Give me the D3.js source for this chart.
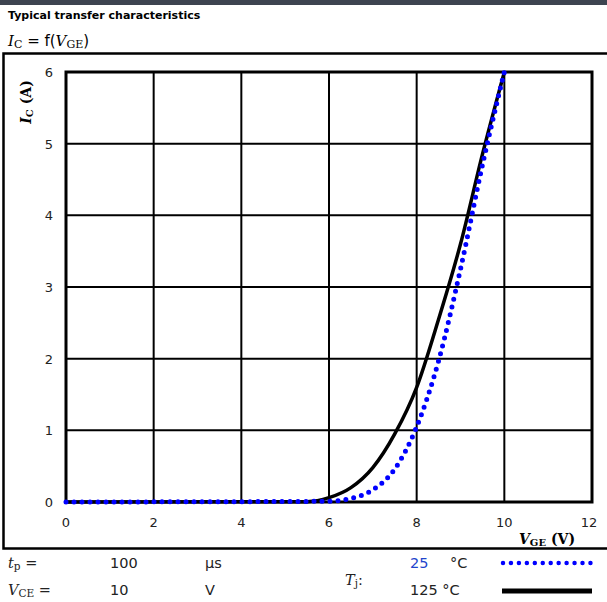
<!DOCTYPE html>
<html><head><meta charset="utf-8">
<script src="https://cdn.jsdelivr.net/npm/d3@7"></script>
<style>body{margin:0;background:#fff}svg{display:block}</style>
</head><body><svg id="c" width="607" height="602"></svg>
<script>
const xTicks = [0, 2, 4, 6, 8, 10, 12];
const yTicks = [0, 1, 2, 3, 4, 5, 6];
const vge = [0, 5.5, 6, 6.5, 7, 7.5, 8, 8.5, 9, 9.5, 10];
const ic125 = [0, 0.005, 0.06, 0.2, 0.48, 0.95, 1.6, 2.55, 3.6, 4.85, 6.0];
const vge25 = [0, 6, 6.5, 7, 7.5, 8, 8.5, 9, 9.5, 10];
const ic25 = [0, 0.01, 0.05, 0.17, 0.46, 1.05, 1.97, 3.25, 4.7, 6.0];

const svg = d3.select("#c");
const x = d3.scaleLinear().domain([0, 12]).range([66, 592]);
const y = d3.scaleLinear().domain([0, 6]).range([502, 72]);

svg.append("rect").attr("x",0).attr("y",0).attr("width",607).attr("height",5).attr("fill","#3d4450");
svg.append("text").attr("x",8).attr("y",19).attr("font-family","DejaVu Sans").attr("font-weight","bold").attr("font-size",11).text("Typical transfer characteristics");

const f = svg.append("text").attr("x",8).attr("y",46).attr("font-family","DejaVu Serif").attr("font-size",15);
f.append("tspan").attr("font-style","italic").text("I");
f.append("tspan").attr("font-size",11).attr("dy",2).text("C");
f.append("tspan").attr("dy",-2).attr("font-family","DejaVu Sans").text(" = f(");
f.append("tspan").attr("font-style","italic").text("V");
f.append("tspan").attr("font-size",11).attr("dy",2).text("GE");
f.append("tspan").attr("dy",-2).attr("font-family","DejaVu Sans").text(")");

// outer box
svg.append("path").attr("d","M612,53.5H3.5V548.5H612").attr("fill","none").attr("stroke","#000").attr("stroke-width",2.5);

// grid
const g = svg.append("g");
g.selectAll(".vx").data(xTicks).join("line").attr("x1",d=>x(d)).attr("x2",d=>x(d)).attr("y1",y(0)).attr("y2",y(6)).attr("stroke","#000").attr("stroke-width",2);
g.selectAll(".hy").data(yTicks).join("line").attr("x1",x(0)).attr("x2",x(12)).attr("y1",d=>y(d)).attr("y2",d=>y(d)).attr("stroke","#000").attr("stroke-width",2);
g.append("rect").attr("x",x(0)).attr("y",y(6)).attr("width",x(12)-x(0)).attr("height",y(0)-y(6)).attr("fill","none").attr("stroke","#000").attr("stroke-width",3);

// tick labels
svg.selectAll(".xl").data(xTicks).join("text").attr("x",d=>x(d)-(d===12?3:0)).attr("y",527).attr("text-anchor","middle").attr("font-family","DejaVu Sans").attr("font-size",13).attr("fill","#222").text(d=>d);
svg.selectAll(".yl").data(yTicks).join("text").attr("x",53).attr("y",d=>y(d)+5).attr("text-anchor","end").attr("font-family","DejaVu Sans").attr("font-size",13).attr("fill","#222").text(d=>d);

// axis titles
const yt = svg.append("text").attr("transform","translate(31,102) rotate(-90)").attr("text-anchor","middle").attr("font-family","DejaVu Serif").attr("font-weight","bold").attr("font-size",14);
yt.append("tspan").attr("font-style","italic").text("I");
yt.append("tspan").attr("font-size",10).attr("dy",2).text("C");
yt.append("tspan").attr("dy",-2).text(" (A)");
const xt = svg.append("text").attr("x",575).attr("y",544).attr("text-anchor","end").attr("font-family","DejaVu Serif").attr("font-weight","bold").attr("font-size",14);
xt.append("tspan").attr("font-style","italic").text("V");
xt.append("tspan").attr("font-size",10).attr("dy",2).text("GE");
xt.append("tspan").attr("dy",-2).text(" (V)");

// curves
const line = d3.line().x(d=>x(d[0])).y(d=>y(d[1])).curve(d3.curveMonotoneX);
svg.append("path").attr("d",line(vge.map((v,i)=>[v,ic125[i]]))).attr("fill","none").attr("stroke","#000").attr("stroke-width",3.5);
svg.append("path").attr("d",line(vge25.map((v,i)=>[v,ic25[i]]))).attr("fill","none").attr("stroke","#0000ff").attr("stroke-width",5).attr("stroke-linecap","round").attr("stroke-dasharray","0 8");

// legend
function txt(xp, yp, parts, color){
  const t = svg.append("text").attr("x",xp).attr("y",yp).attr("font-family","DejaVu Sans").attr("font-size",14.5).attr("fill",color||"#222");
  parts.forEach(p=>{ const s=t.append("tspan").text(p.t); if(p.it){s.attr("font-style","italic").attr("font-family","DejaVu Serif");} if(p.sub){s.attr("font-size",10.5).attr("dy",2).attr("font-family","DejaVu Serif");} if(p.up){s.attr("dy",-2);} });
  return t;
}
txt(8,568,[{t:"t",it:1},{t:"p",sub:1},{t:" =",up:1}]);
txt(8,595,[{t:"V",it:1},{t:"CE",sub:1},{t:" =",up:1}]);
txt(110,568,[{t:"100"}]);
txt(110,595,[{t:"10"}]);
txt(205,568,[{t:"μs"}]);
txt(205,595,[{t:"V"}]);
txt(345,585,[{t:"T",it:1},{t:"j",sub:1},{t:":",up:1}]);
txt(410,568,[{t:"25"}],"#2244cc");
txt(450,568,[{t:"°C"}]);
txt(410,595,[{t:"125 °C"}]);
svg.append("line").attr("x1",503).attr("x2",591).attr("y1",563).attr("y2",563).attr("stroke","#0000ff").attr("stroke-width",4.5).attr("stroke-linecap","round").attr("stroke-dasharray","0 7.95");
svg.append("line").attr("x1",502).attr("x2",592).attr("y1",591).attr("y2",591).attr("stroke","#000").attr("stroke-width",5);
</script></body></html>
